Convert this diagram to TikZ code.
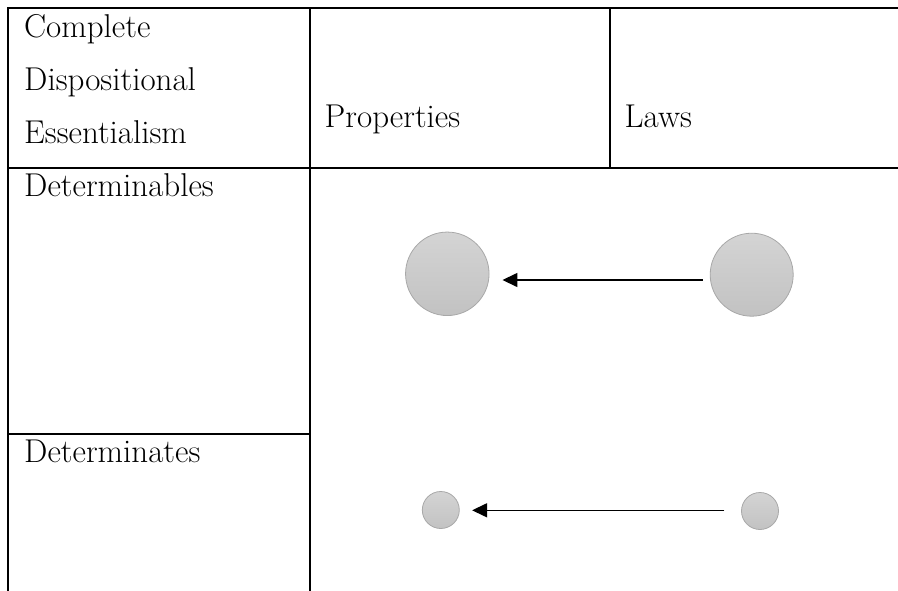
\documentclass[tikz,border=0pt]{standalone}
\usetikzlibrary{arrows.meta}
\definecolor{ballTop}{RGB}{212,212,212}
\definecolor{ballBot}{RGB}{194,194,194}
\definecolor{ballEdge}{RGB}{168,168,168}
\begin{document}
\begin{tikzpicture}[x=1pt,y=-1pt,
  rule/.style={line width=2pt,line cap=rect},
  label/.style={anchor=base west,inner sep=0pt,font=\fontsize{33}{53}\selectfont},
  ball/.style={circle,inner sep=0pt,minimum size=#1,draw=ballEdge,line width=0.8pt,
    top color=ballTop,bottom color=ballBot},
  arr/.style={line width=1.5pt,-{Triangle[length=15pt,width=14pt]}}]
  \useasboundingbox (0,0) rectangle (898,590);
  % table rules
  \draw[rule] (8,8) -- (898,8);
  \draw[rule] (8,8) -- (8,592);
  \draw[rule] (310,8) -- (310,592);
  \draw[rule] (8,167.7) -- (898,167.7);
  \draw[rule] (609.5,8) -- (609.5,167.7);
  \draw[rule] (8,434) -- (310,434);
  % header and row labels
  \node[label] (complete) at (24,37) {Complete};
  \node[label] (dispositional) at (24,90) {Dispositional};
  \node[label] (essentialism) at (24,143) {Essentialism};
  \node[label] (properties) at (324.5,127) {Properties};
  \node[label] (laws) at (624.5,127) {Laws};
  \node[label] (determinables) at (24,196) {Determinables};
  \node[label] (determinates) at (24,462) {Determinates};
  % determinables: laws point to properties
  \node[ball=83.5pt] (bigP) at (447.3,273.8) {};
  \node[ball=83pt] (bigL) at (751.7,274.7) {};
  \draw[arr,shorten <=7pt,shorten >=13pt]
    ([yshift=-5.3pt]bigL.west) -- ([yshift=-6.2pt]bigP.east);
  % determinates: laws point to properties
  \node[ball=37pt] (smallP) at (440.8,510) {};
  \node[ball=37pt] (smallL) at (760,511) {};
  \draw[arr,shorten <=16.7pt,shorten >=12.4pt]
    ([yshift=0.7pt]smallL.west) -- ([yshift=-0.3pt]smallP.east);
\end{tikzpicture}
\end{document}
